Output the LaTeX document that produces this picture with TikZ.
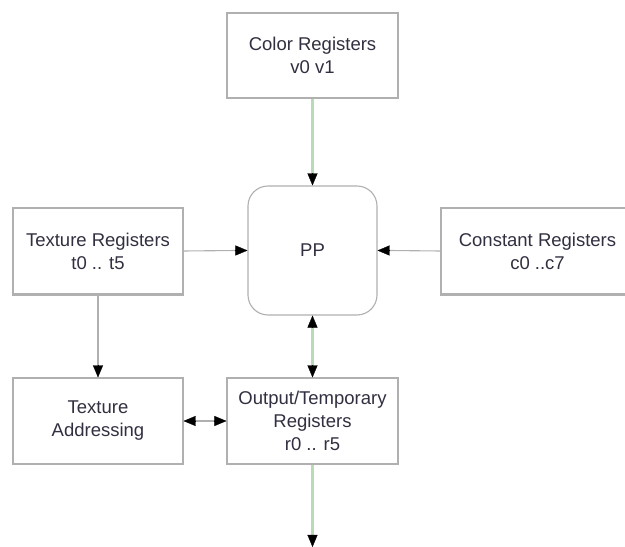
\documentclass[tikz,border=0pt]{standalone}
\usepackage{fontspec}
\setmainfont{Liberation Sans}
\usetikzlibrary{arrows.meta}
\definecolor{boxgray}{HTML}{B0B0B0}
\definecolor{linkgreen}{HTML}{B6DBB6}
\definecolor{txt}{HTML}{303040}
\begin{document}
\begin{tikzpicture}[x=1pt,y=1pt,
  regbox/.style={draw=boxgray,line width=1.1pt,fill=white,inner sep=0pt,
    align=center,text=txt,font=\fontsize{18.5}{23}\selectfont},
  head/.tip={Triangle[length=12pt,width=10pt]},
  tip/.style={-head},
  twoway/.style={head-head},
  grayline/.style={draw=boxgray,line width=1.1pt},
  greenline/.style={draw=linkgreen,line width=2.2pt},
  blackhead/.style={draw=black,fill=black,line width=0.3pt,-head}]
\useasboundingbox (0,0) rectangle (625,547);
\clip (0,0) rectangle (625,547);
% register blocks
\node[regbox,minimum width=171,minimum height=85] (color) at (312.5,491.5) {Color Registers\\v0 v1};
\node[regbox,minimum width=129,minimum height=129,rounded corners=20pt] (pp) at (312.5,296.5) {PP};
\node[regbox,minimum width=170,minimum height=86] (texreg) at (98,296) {Texture Registers\\t0 .. t5};
\node[regbox,minimum width=193,minimum height=86] (const) at (537.5,296) {Constant Registers\\c0 ..c7};
\node[regbox,minimum width=170,minimum height=86] (texaddr) at (98,126) {Texture\\Addressing};
\node[regbox,minimum width=171,minimum height=86] (out) at (312.5,126) {Output/Temporary\\Registers\\r0 .. r5};
\coordinate (sink) at (312.5,0);
% heavier lower rims on the side blocks
\draw[boxgray,line width=2.4pt] (texreg.south west) -- (texreg.south east);
\draw[boxgray,line width=2.4pt] (const.south west) -- (const.south east);
% green left rim of the PP block
\draw[linkgreen,line width=1.5pt] ([yshift=-20pt]pp.north west) -- ([yshift=20pt]pp.south west);
% gray connectors
\draw[grayline] (texreg.east) -- ([xshift=-11pt]pp.west);
\draw[blackhead] ([xshift=-12pt]pp.west) -- (pp.west);
\draw[grayline] (const.west) -- ([xshift=11pt]pp.east);
\draw[blackhead] ([xshift=12pt]pp.east) -- (pp.east);
\draw[grayline] (texreg.south) -- ([yshift=11pt]texaddr.north);
\draw[blackhead] ([yshift=12pt]texaddr.north) -- (texaddr.north);
\draw[grayline] ([xshift=11pt]texaddr.east) -- ([xshift=-11pt]out.west);
\draw[blackhead] ([xshift=-12pt]out.west) -- (out.west);
\draw[blackhead] ([xshift=12pt]texaddr.east) -- (texaddr.east);
% green connectors
\draw[greenline] (color.south) -- ([yshift=11pt]pp.north);
\draw[blackhead] ([yshift=12pt]pp.north) -- (pp.north);
\draw[greenline] ([yshift=-11pt]pp.south) -- ([yshift=11pt]out.north);
\draw[blackhead] ([yshift=-12pt]pp.south) -- (pp.south);
\draw[blackhead] ([yshift=12pt]out.north) -- (out.north);
\draw[greenline] (out.south) -- ([yshift=11pt]sink);
\draw[blackhead] ([yshift=12pt]sink) -- (sink);
\end{tikzpicture}
\end{document}
